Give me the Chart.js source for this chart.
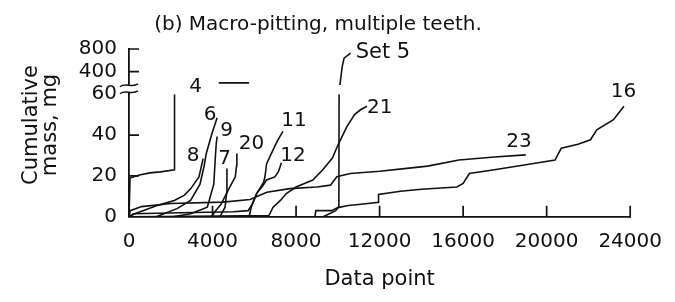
<!DOCTYPE html>
<html>
<head>
<meta charset="utf-8">
<script src="https://cdn.jsdelivr.net/npm/chart.js@4.4.1/dist/chart.umd.min.js"></script>
<style>
  html, body { margin: 0; padding: 0; background: #fff; }
</style>
</head>
<body>
<canvas id="chart" width="675" height="302"></canvas>
<script>
// tick values
const xTicks = [0, 4000, 8000, 12000, 16000, 20000, 24000];
const yLowTicks = [0, 20, 40, 60];
const yHighTicks = [400, 800];

// cumulative mass curves (data point, mg) - lower part of the axis
const x4 = [0, 50, 500, 1000, 1500, 2180, 2180];
const y4 = [0, 19, 20.5, 21.5, 22, 23, 60];
const x4top = [4300, 5750];
const y4top = [200, 200];

const x6 = [1300, 2300, 2950, 3400, 3600, 3700, 3980, 4220];
const y6 = [0, 4, 8, 16, 25, 31, 41, 48.5];

const x7 = [4350, 4600, 4680, 4690];
const y7 = [0, 4.7, 12, 23.6];

const x8 = [0, 275, 1380, 2170, 2640, 2960, 3350, 3550];
const y8 = [0, 1.5, 5.6, 8, 10.5, 13.8, 19.5, 28.5];

const x9 = [2100, 2950, 3750, 4060, 4140, 4180, 4220];
const y9 = [0, 1.5, 4.7, 16, 30, 36, 39.3];

const x11 = [0, 200, 2500, 5000, 5700, 5900, 6150, 6450, 6510, 6590, 6820, 7100, 7370];
const y11 = [0, 1.5, 2, 2.5, 3, 6, 12, 17, 19.6, 26, 31, 37, 41.8];

const x12 = [5750, 5875, 6110, 6400, 6585, 6980, 7150, 7220, 7295];
const y12 = [0, 5.6, 11.4, 15, 18, 19.5, 22, 24, 26.5];

const x16 = [8900, 8950, 9700, 10000, 10500, 11000, 11950, 11950, 13000, 14000, 15700, 16000, 16300, 17500, 19000, 20400, 20700, 21500, 22100, 22400, 23200, 23700];
const y16 = [0, 3, 3, 4.5, 5.5, 6, 7.1, 10.9, 12.5, 13.5, 14.6, 16.3, 21.2, 23, 25.5, 27.8, 33.6, 35.5, 37.7, 42.6, 47.5, 54.1];

const x20 = [3950, 4150, 4400, 4600, 4850, 5090, 5150, 5165];
const y20 = [0, 3, 6, 10, 15, 19.6, 25, 31];

const x21 = [0, 3000, 6700, 6900, 7250, 7530, 8000, 8800, 9270, 9740, 10000, 10440, 10800, 11100, 11400];
const y21 = [0, 0.3, 0.6, 4.7, 8, 11.4, 14.6, 18, 22.9, 28.8, 35, 44.3, 50, 52.5, 54.1];

const x23 = [0, 60, 600, 2000, 4500, 5800, 6600, 7700, 9000, 9650, 9950, 10600, 12000, 13300, 14300, 15800, 17500, 19000];
const y23 = [0, 3, 5, 6.5, 7.2, 8.5, 12, 13.8, 14.6, 15.5, 19.6, 21.2, 22.3, 23.7, 24.8, 27.8, 29.3, 30.3];

const x5 = [9300, 9900, 10050, 10060];
const y5 = [0, 3, 5, 60];
const x5top = [10100, 10210, 10300, 10610];
const y5top = [163, 489, 639, 729];

// curve labels
const labelText = ['4', '6', '9', '8', '7', '20', '11', '12', '21', 'Set 5', '23', '16'];
const labelX = [3186, 3880, 4680, 3070, 4580, 5870, 7900, 7850, 12010, 12160, 18670, 23680];
const labelY = [130, 50, 42, 30, 28.5, 35.5, 46.9, 29.8, 53.4, 743, 36.8, 61];
const labelAxis = ['yHigh', 'yLow', 'yLow', 'yLow', 'yLow', 'yLow', 'yLow', 'yLow', 'yLow', 'yHigh', 'yLow', 'yLow'];

const ink = '#111';
const font = 'DejaVu Sans';
Chart.defaults.font.family = font;
Chart.defaults.color = ink;

function curve(xs, ys, axis) {
  return {
    data: xs.map((x, i) => ({ x: x, y: ys[i] })),
    yAxisID: axis,
    borderColor: ink,
    borderWidth: 1.6,
    pointRadius: 0,
    fill: false,
    tension: 0
  };
}

const datasets = [
  curve(x4, y4, 'yLow'), curve(x4top, y4top, 'yHigh'),
  curve(x6, y6, 'yLow'), curve(x7, y7, 'yLow'), curve(x8, y8, 'yLow'),
  curve(x9, y9, 'yLow'), curve(x11, y11, 'yLow'), curve(x12, y12, 'yLow'),
  curve(x16, y16, 'yLow'), curve(x20, y20, 'yLow'), curve(x21, y21, 'yLow'),
  curve(x23, y23, 'yLow'),
  curve(x5, y5, 'yLow'), curve(x5top, y5top, 'yHigh')
];

// inward tick marks, axis break, curve labels, y title
const decor = {
  id: 'decor',
  afterDraw(chart) {
    const ctx = chart.ctx;
    const xs = chart.scales.x, lo = chart.scales.yLow, hi = chart.scales.yHigh;
    const ax = lo.right, bottom = xs.top;
    ctx.save();
    ctx.strokeStyle = ink;
    ctx.lineWidth = 1.7;
    ctx.beginPath();
    xTicks.forEach(v => {
      if (v === 0) return;
      const px = xs.getPixelForValue(v);
      ctx.moveTo(px, bottom);
      ctx.lineTo(px, bottom - 11);
    });
    [20, 40].forEach(v => {
      const py = lo.getPixelForValue(v);
      ctx.moveTo(ax, py);
      ctx.lineTo(ax + 10, py);
    });
    yHighTicks.forEach(v => {
      const py = hi.getPixelForValue(v);
      ctx.moveTo(ax, py);
      ctx.lineTo(ax + 10, py);
    });
    ctx.stroke();

    // axis break
    const bt = lo.top;
    ctx.fillStyle = '#fff';
    ctx.fillRect(ax - 3, bt - 9, 6, 7);
    ctx.lineWidth = 1.5;
    [bt - 9, bt - 2].forEach(y => {
      ctx.beginPath();
      ctx.moveTo(ax - 9, y + 1.5);
      ctx.bezierCurveTo(ax - 4, y - 3, ax + 4, y + 3, ax + 9, y - 1.5);
      ctx.stroke();
    });

    ctx.fillStyle = ink;
    ctx.textAlign = 'center';
    ctx.textBaseline = 'middle';
    labelText.forEach((t, i) => {
      ctx.font = (t === 'Set 5' ? '21px ' : '20px ') + font;
      const px = xs.getPixelForValue(labelX[i]);
      const py = chart.scales[labelAxis[i]].getPixelForValue(labelY[i]);
      ctx.fillText(t, px, py);
    });

    ctx.font = '21px ' + font;
    ctx.textBaseline = 'alphabetic';
    ctx.translate(0, 125);
    ctx.rotate(-Math.PI / 2);
    ctx.fillText('Cumulative', 0, 37);
    ctx.fillText('mass, mg', 0, 56);
    ctx.restore();
  }
};

const fixWidth = s => { s.width = 129; };
const plain = v => String(v);

new Chart(document.getElementById('chart'), {
  type: 'line',
  data: { datasets: datasets },
  options: {
    responsive: false,
    animation: false,
    devicePixelRatio: 1,
    layout: { padding: { left: 0, right: 39, top: 0, bottom: 0 } },
    plugins: {
      legend: { display: false },
      tooltip: { enabled: false },
      title: {
        display: true,
        text: '(b) Macro-pitting, multiple teeth.',
        font: { size: 20, weight: 'normal' },
        color: ink,
        padding: { top: 13, bottom: 12 }
      }
    },
    scales: {
      x: {
        type: 'linear',
        min: 0,
        max: 24000,
        afterBuildTicks: s => { s.ticks = xTicks.map(v => ({ value: v })); },
        ticks: { font: { size: 20 }, color: ink, padding: 13, maxRotation: 0, autoSkip: false, callback: plain },
        grid: { display: false, drawTicks: false },
        border: { display: true, color: ink, width: 1.8 },
        title: {
          display: true,
          text: 'Data point',
          font: { size: 21 },
          color: ink,
          padding: { top: 0, bottom: 10 }
        }
      },
      yLow: {
        type: 'linear',
        position: 'left',
        stack: 'y',
        stackWeight: 122,
        min: 0,
        max: 60,
        afterBuildTicks: s => { s.ticks = yLowTicks.map(v => ({ value: v })); },
        afterFit: fixWidth,
        ticks: { font: { size: 20 }, color: ink, padding: 12, callback: plain },
        grid: { display: false, drawTicks: false },
        border: { display: true, color: ink, width: 1.8 }
      },
      yHigh: {
        type: 'linear',
        position: 'left',
        stack: 'y',
        stackWeight: 45,
        min: 0,
        max: 800,
        afterBuildTicks: s => { s.ticks = yHighTicks.map(v => ({ value: v })); },
        afterFit: fixWidth,
        ticks: { font: { size: 20 }, color: ink, padding: 12, callback: plain },
        grid: { display: false, drawTicks: false },
        border: { display: true, color: ink, width: 1.8 }
      }
    }
  },
  plugins: [decor]
});
</script>
</body>
</html>
